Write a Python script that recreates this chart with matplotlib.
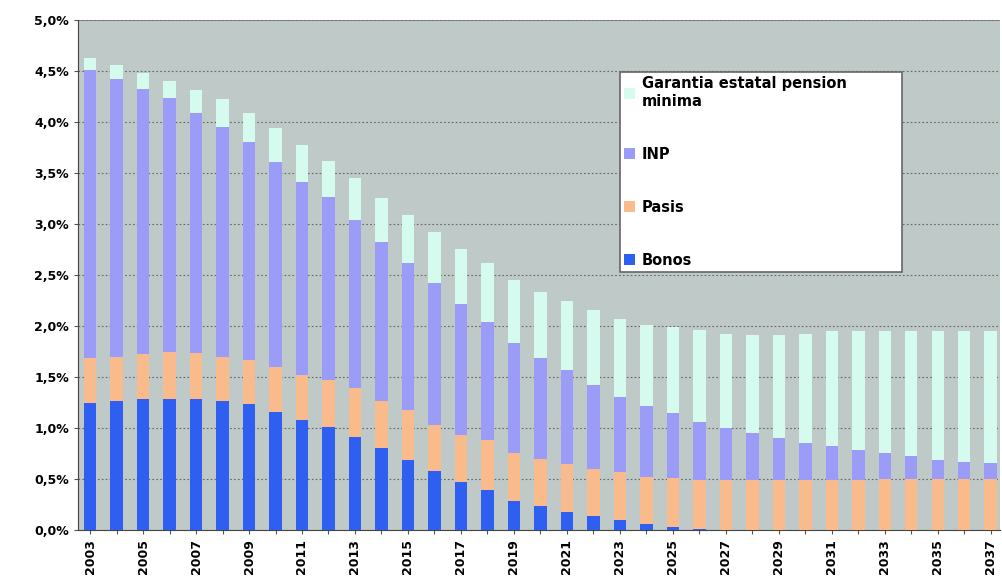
import matplotlib
matplotlib.use('Agg')
import matplotlib.pyplot as plt
from matplotlib.ticker import FuncFormatter, MultipleLocator
import numpy as np

years = list(range(2003, 2038))

bonos = [1.24, 1.26, 1.28, 1.28, 1.28, 1.26, 1.23, 1.16, 1.08, 1.01,
         0.91, 0.80, 0.69, 0.58, 0.47, 0.39, 0.28, 0.23, 0.18, 0.14,
         0.10, 0.06, 0.03, 0.01, 0, 0, 0, 0, 0, 0,
         0, 0, 0, 0, 0]
pasis = [0.45, 0.44, 0.44, 0.46, 0.45, 0.44, 0.44, 0.44, 0.44, 0.46,
         0.48, 0.46, 0.49, 0.45, 0.46, 0.49, 0.47, 0.47, 0.47, 0.46,
         0.47, 0.46, 0.48, 0.48, 0.49, 0.49, 0.49, 0.49, 0.49, 0.49,
         0.50, 0.50, 0.50, 0.50, 0.50]
inp = [2.82, 2.72, 2.60, 2.49, 2.36, 2.25, 2.13, 2.01, 1.89, 1.79,
       1.65, 1.56, 1.44, 1.39, 1.28, 1.16, 1.08, 0.99, 0.92, 0.82,
       0.73, 0.69, 0.64, 0.57, 0.51, 0.46, 0.41, 0.36, 0.33, 0.29,
       0.25, 0.22, 0.19, 0.17, 0.16]
garantia = [0.12, 0.14, 0.16, 0.17, 0.22, 0.27, 0.29, 0.33, 0.36, 0.36,
            0.41, 0.43, 0.47, 0.50, 0.54, 0.58, 0.62, 0.64, 0.67, 0.74,
            0.77, 0.80, 0.84, 0.90, 0.92, 0.96, 1.01, 1.07, 1.13, 1.17,
            1.20, 1.23, 1.26, 1.28, 1.29]

labels = ['Bonos', 'Pasis', 'INP', 'Garantia estatal pension\nminima']
colors = ['#2f5ff0', '#f9bb8c', '#9a9cf8', '#d4fbee']

fig = plt.figure(figsize=(10.02, 5.83), dpi=100)
ax = fig.add_axes([0.078, 0.091, 0.92, 0.875])
ax.set_facecolor('#bfc9c7')

x = np.arange(len(years))
bottom = np.zeros(len(years))
handles = []
for vals, lab, col in zip([bonos, pasis, inp, garantia], labels, colors):
    b = ax.bar(x, vals, width=0.47, bottom=bottom, color=col, label=lab, zorder=3)
    handles.append(b)
    bottom += np.array(vals)

ax.set_ylim(0, 5.0)
ax.set_xlim(-0.45, len(years) - 0.65)
ax.yaxis.set_major_locator(MultipleLocator(0.5))
ax.yaxis.set_major_formatter(FuncFormatter(lambda v, p: ('%.1f%%' % v).replace('.', ',')))
ax.grid(axis='y', color='#666666', linestyle=(0, (1.5, 2)), linewidth=0.8, zorder=1)

ax.set_xticks(x)
ax.set_xticklabels([str(y) if (y - 2003) % 2 == 0 else '' for y in years], rotation=90)
for lbl in ax.get_xticklabels() + ax.get_yticklabels():
    lbl.set_fontweight('bold')
    lbl.set_fontsize(9)
ax.tick_params(axis='x', length=3, color='#555555')
ax.tick_params(axis='y', length=3, color='#555555')

for s in ['top', 'right']:
    ax.spines[s].set_visible(False)
ax.spines['left'].set_color('#444444')
ax.spines['bottom'].set_color('#444444')
ax.axhline(5.0, color='#777777', linewidth=1.2, zorder=2)

leg = ax.legend(handles[::-1], labels[::-1], loc='upper left',
                bbox_to_anchor=(0.58, 0.505, 0.322, 0.407), mode='expand',
                frameon=True, fancybox=False, edgecolor='#666666',
                facecolor='white', framealpha=1.0,
                handlelength=0.7, handleheight=0.7, handletextpad=0.5,
                labelspacing=2.6, borderpad=0.3,
                prop={'weight': 'bold', 'size': 10.5})
leg.get_frame().set_linewidth(1.2)
leg.set_zorder(5)

fig.savefig('out.png', dpi=100)
